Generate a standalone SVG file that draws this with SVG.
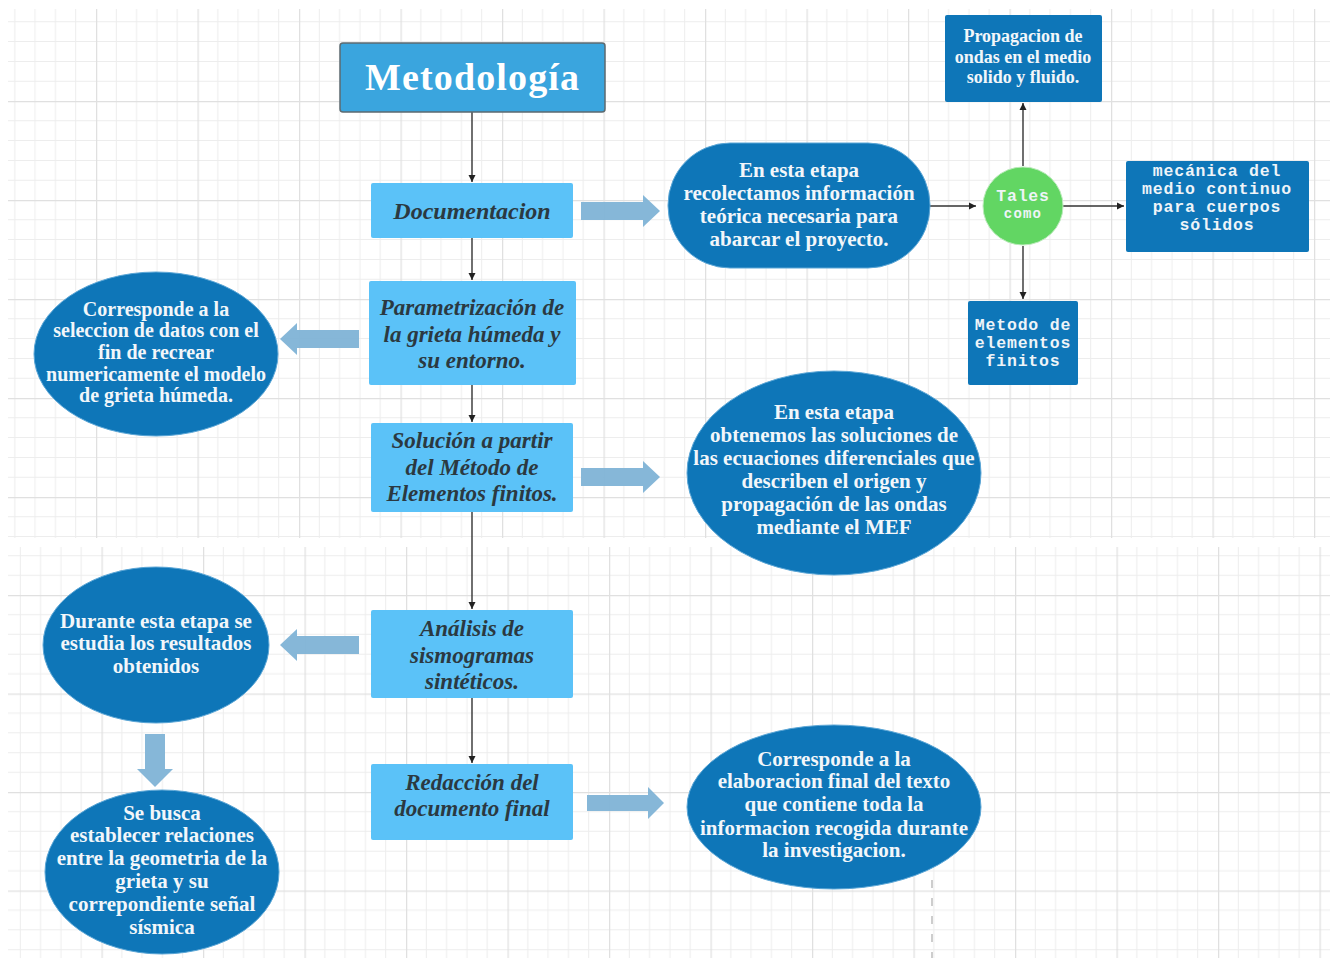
<svg xmlns="http://www.w3.org/2000/svg" width="1332" height="961" viewBox="0 0 1332 961">
<defs>
<pattern id="gridTop" x="96" y="101" width="101.5" height="99" patternUnits="userSpaceOnUse">
<path d="M20.3 0V99M40.6 0V99M60.9 0V99M81.2 0V99M0 19.8H101.5M0 39.6H101.5M0 59.4H101.5M0 79.2H101.5" stroke="#ededed" stroke-width="1" fill="none"/>
<path d="M0.5 0V99M0 0.5H101.5" stroke="#e0e0e0" stroke-width="1.5" fill="none"/>
</pattern>
<pattern id="gridBot" x="1015" y="595" width="101.5" height="98.5" patternUnits="userSpaceOnUse">
<path d="M20.3 0V98.5M40.6 0V98.5M60.9 0V98.5M81.2 0V98.5M0 19.7H101.5M0 39.4H101.5M0 59.1H101.5M0 78.8H101.5" stroke="#ededed" stroke-width="1" fill="none"/>
<path d="M0.5 0V98.5M0 0.5H101.5" stroke="#e0e0e0" stroke-width="1.5" fill="none"/>
</pattern>
<marker id="ah" markerWidth="8" markerHeight="8" refX="7" refY="4" orient="auto" markerUnits="userSpaceOnUse">
<path d="M0 0.5L7 4L0 7.5Z" fill="#222"/>
</marker>
</defs>
<style>
.conn{stroke:#333;stroke-width:1.4;fill:none}
.blk{fill:#7fb3d6;opacity:0.95}
.proc{fill:#5bc2f8}
.dark{fill:#0e76b8}
.ell{fill:#0e76b8;stroke:#5ba6d6;stroke-width:1}
.pt{font-family:"Liberation Serif",serif;font-style:italic;font-weight:700;font-size:23px;fill:#2b3941;text-anchor:middle}
.et{font-family:"Liberation Serif",serif;font-weight:700;font-size:21px;fill:#f2f6fa;text-anchor:middle}
.et20{font-size:20px}
.st{font-family:"Liberation Serif",serif;font-weight:700;font-size:18px;fill:#f2f6fa;text-anchor:middle}
.mt{font-family:"Liberation Mono",monospace;font-weight:700;font-size:16.5px;letter-spacing:0.8px;fill:#eef4f8;text-anchor:middle}
</style>
<rect x="0" y="0" width="1332" height="961" fill="#ffffff"/>
<g id="background">
<rect x="8" y="9" width="1322" height="529" fill="url(#gridTop)"/>
<rect x="8" y="547" width="1322" height="411" fill="url(#gridBot)"/>
<line x1="932" y1="880" x2="932" y2="958" stroke="#bdbdbd" stroke-width="1.5" stroke-dasharray="8 10"/>
</g>

<g id="connectors">
<line class="conn" x1="472" y1="112" x2="472" y2="182" marker-end="url(#ah)"/>
<line class="conn" x1="472" y1="238" x2="472" y2="280" marker-end="url(#ah)"/>
<line class="conn" x1="472" y1="385" x2="472" y2="422" marker-end="url(#ah)"/>
<line class="conn" x1="472" y1="512" x2="472" y2="609" marker-end="url(#ah)"/>
<line class="conn" x1="472" y1="698" x2="472" y2="763" marker-end="url(#ah)"/>
<line class="conn" x1="930" y1="206" x2="976" y2="206" marker-end="url(#ah)"/>
<line class="conn" x1="1023" y1="166" x2="1023" y2="103" marker-end="url(#ah)"/>
<line class="conn" x1="1063" y1="206" x2="1124" y2="206" marker-end="url(#ah)"/>
<line class="conn" x1="1023" y1="246" x2="1023" y2="299" marker-end="url(#ah)"/>
<path class="blk" d="M581 202H643V195L660 211L643 227V220H581Z"/>
<path class="blk" d="M581 468H643V461L660 477L643 493V486H581Z"/>
<path class="blk" d="M587 795H648V787L664 803L648 819V811H587Z"/>
<path class="blk" d="M359 330H297V323L280 339L297 355V348H359Z"/>
<path class="blk" d="M359 636H297V629L280 645L297 661V654H359Z"/>
<path class="blk" d="M145 734H165V769H173L155 787L137 769H145Z"/>
</g>

<g id="n-metodologia">
<rect x="340" y="43" width="265" height="69" rx="3" fill="#3aa5de" stroke="#5c6a70" stroke-width="1.5"/>
<text x="472" y="90" font-family="Liberation Serif, serif" font-size="38" font-weight="600" fill="#ffffff" text-anchor="middle" textLength="214">Metodología</text>
</g>

<g id="n-documentacion">
<rect class="proc" x="371" y="183" width="202" height="55" rx="2"/>
<text class="pt" x="472" y="219" style="font-size:24px">Documentacion</text>
</g>

<g id="n-parametrizacion">
<rect class="proc" x="369" y="281" width="207" height="104" rx="2"/>
<text class="pt" x="472" y="315">Parametrización de</text>
<text class="pt" x="472" y="342">la grieta húmeda y</text>
<text class="pt" x="472" y="368">su entorno.</text>
</g>

<g id="n-solucion">
<rect class="proc" x="371" y="423" width="202" height="89" rx="2"/>
<text class="pt" x="472" y="448">Solución a partir</text>
<text class="pt" x="472" y="475">del Método de</text>
<text class="pt" x="472" y="501">Elementos finitos.</text>
</g>

<g id="n-analisis">
<rect class="proc" x="371" y="610" width="202" height="88" rx="2"/>
<text class="pt" x="472" y="636">Análisis de</text>
<text class="pt" x="472" y="663">sismogramas</text>
<text class="pt" x="472" y="689">sintéticos.</text>
</g>

<g id="n-redaccion">
<rect class="proc" x="371" y="764" width="202" height="76" rx="2"/>
<text class="pt" x="472" y="790">Redacción del</text>
<text class="pt" x="472" y="816">documento final</text>
</g>

<g id="n-documentacion-desc">
<rect class="ell" x="668" y="143" width="262" height="125" rx="62" ry="62"/>
<text class="et" x="799" y="177">En esta etapa</text>
<text class="et" x="799" y="200">recolectamos información</text>
<text class="et" x="799" y="223">teórica necesaria para</text>
<text class="et" x="799" y="246">abarcar el proyecto.</text>
</g>

<g id="n-tales">
<ellipse cx="1023" cy="206" rx="40" ry="39" fill="#62d663" stroke="#b9eab9" stroke-width="1"/>
<text class="mt" x="1023" y="201" style="font-size:16.5px;letter-spacing:0.8px">Tales</text>
<text class="mt" x="1023" y="218" style="font-size:14px;letter-spacing:1.2px">como</text>
</g>

<g id="n-propagacion">
<rect class="dark" x="945" y="15" width="157" height="87" rx="2"/>
<text class="st" x="1023" y="42">Propagacion de</text>
<text class="st" x="1023" y="63">ondas en el medio</text>
<text class="st" x="1023" y="83">solido y fluido.</text>
</g>

<g id="n-mecanica">
<rect class="dark" x="1126" y="161" width="183" height="91" rx="2"/>
<text class="mt" x="1217" y="176">mecánica del</text>
<text class="mt" x="1217" y="194">medio continuo</text>
<text class="mt" x="1217" y="212">para cuerpos</text>
<text class="mt" x="1217" y="230">sólidos</text>
</g>

<g id="n-mef">
<rect class="dark" x="968" y="301" width="110" height="84" rx="2"/>
<text class="mt" x="1023" y="330">Metodo de</text>
<text class="mt" x="1023" y="348">elementos</text>
<text class="mt" x="1023" y="366">finitos</text>
</g>

<g id="n-parametrizacion-desc">
<ellipse class="ell" cx="156" cy="354" rx="122" ry="82"/>
<text class="et et20" x="156" y="316">Corresponde a la</text>
<text class="et et20" x="156" y="337">seleccion de datos con el</text>
<text class="et et20" x="156" y="359">fin de recrear</text>
<text class="et et20" x="156" y="381">numericamente el modelo</text>
<text class="et et20" x="156" y="402">de grieta húmeda.</text>
</g>

<g id="n-solucion-desc">
<ellipse class="ell" cx="834" cy="473" rx="147" ry="102"/>
<text class="et" x="834" y="419">En esta etapa</text>
<text class="et" x="834" y="442">obtenemos las soluciones de</text>
<text class="et" x="834" y="465">las ecuaciones diferenciales que</text>
<text class="et" x="834" y="488">describen el origen y</text>
<text class="et" x="834" y="511">propagación de las ondas</text>
<text class="et" x="834" y="534">mediante el MEF</text>
</g>

<g id="n-analisis-desc">
<ellipse class="ell" cx="156" cy="645" rx="113" ry="78"/>
<text class="et" x="156" y="628">Durante esta etapa se</text>
<text class="et" x="156" y="650">estudia los resultados</text>
<text class="et" x="156" y="673">obtenidos</text>
</g>

<g id="n-relaciones">
<ellipse class="ell" cx="162" cy="872" rx="117" ry="82"/>
<text class="et" x="162" y="820">Se busca</text>
<text class="et" x="162" y="842">establecer relaciones</text>
<text class="et" x="162" y="865">entre la geometria de la</text>
<text class="et" x="162" y="888">grieta y su</text>
<text class="et" x="162" y="911">correpondiente señal</text>
<text class="et" x="162" y="934">sísmica</text>
</g>

<g id="n-redaccion-desc">
<ellipse class="ell" cx="834" cy="807" rx="147" ry="82"/>
<text class="et" x="834" y="766">Corresponde a la</text>
<text class="et" x="834" y="788">elaboracion final del texto</text>
<text class="et" x="834" y="811">que contiene toda la</text>
<text class="et" x="834" y="835">informacion recogida durante</text>
<text class="et" x="834" y="857">la investigacion.</text>
</g>
</svg>
